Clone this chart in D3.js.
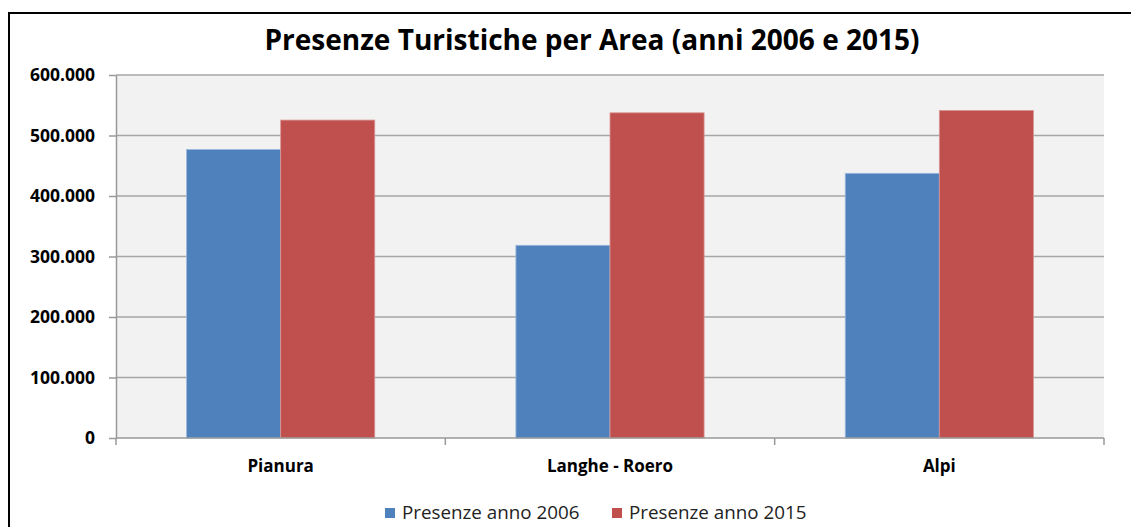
<!DOCTYPE html>
<html>
<head>
<meta charset="utf-8">
<script src="https://cdn.jsdelivr.net/npm/d3@7"></script>
<style>
  body { margin: 0; background: #fff; }
  svg { display: block; font-family: "Open Sans", "Noto Sans", sans-serif; }
</style>
</head>
<body>
<svg id="chart" width="1131" height="527"></svg>
<script>
var areas = ['Pianura', 'Langhe - Roero', 'Alpi']
  , seriesNames = ['Presenze anno 2006', 'Presenze anno 2015']
  , values2006 = [477000, 318500, 437500]
  , values2015 = [525500, 537500, 541500]
  , yTicks = [0, 100000, 200000, 300000, 400000, 500000, 600000]
  , colors = ['#4F81BD', '#C0504D']

var svg = d3.select('#chart')
  , margin = {left: 116, top: 75, right: 27, bottom: 89}
  , width = 1131 - margin.left - margin.right
  , height = 527 - margin.top - margin.bottom

var itFormat = d3.formatLocale({
    decimal: ','
  , thousands: '.'
  , grouping: [3]
  , currency: ['€', '']
}).format(',d')

// outer frame (right and bottom edges fall outside the picture)
svg.append('path')
  .attr('d', 'M9,527V13H1131')
  .attr('fill', 'none')
  .attr('stroke', '#000')
  .attr('stroke-width', 2)

svg.append('text')
  .attr('x', 592)
  .attr('y', 50)
  .attr('text-anchor', 'middle')
  .attr('font-size', '28px')
  .attr('font-weight', 'bold')
  .attr('fill', '#000')
  .text('Presenze Turistiche per Area (anni 2006 e 2015)')

var g = svg.append('g')
  .attr('transform', 'translate(' + margin.left + ',' + margin.top + ')')

var x = d3.scaleBand()
  .domain(areas)
  .range([0, width])

// excel style: gap width 150% of one bar, split on both sides
var barW = x.bandwidth() / 3.5

var x1 = d3.scaleBand()
  .domain(seriesNames)
  .range([barW * 0.75, x.bandwidth() - barW * 0.75])

var y = d3.scaleLinear()
  .domain([0, 600000])
  .range([height, 0])

g.append('rect')
  .attr('width', width)
  .attr('height', height)
  .attr('fill', '#F2F2F2')

g.selectAll('.grid')
  .data(yTicks.slice(1))
  .enter()
    .append('line')
    .attr('class', 'grid')
    .attr('x1', 0)
    .attr('x2', width)
    .attr('y1', y)
    .attr('y2', y)
    .attr('stroke', '#A6A6A6')
    .attr('stroke-width', 1.5)

var table = areas.map(function(area, i) {
  return {area: area, vals: [values2006[i], values2015[i]]}
})

var groups = g.selectAll('.area')
  .data(table)
  .enter()
    .append('g')
    .attr('class', 'area')
    .attr('transform', function(d) { return 'translate(' + x(d.area) + ',0)' })

groups.selectAll('rect')
  .data(function(d) {
    return d.vals.map(function(v, j) { return {name: seriesNames[j], value: v, idx: j} })
  })
  .enter()
    .append('rect')
    .attr('x', function(d) { return x1(d.name) })
    .attr('y', function(d) { return y(d.value) })
    .attr('width', x1.bandwidth())
    .attr('height', function(d) { return height - y(d.value) })
    .attr('fill', function(d) { return colors[d.idx] })
    .attr('stroke', function(d) { return d.idx ? '#D99795' : '#9DB9DC' })
    .attr('stroke-width', 0.8)

var yAxis = g.append('g')
  .call(d3.axisLeft(y).tickValues(yTicks).tickFormat(itFormat).tickSizeInner(7).tickSizeOuter(0).tickPadding(14))

yAxis.select('.domain').attr('stroke', '#999').attr('stroke-width', 1.5)
yAxis.selectAll('.tick line').attr('stroke', '#999').attr('stroke-width', 1.5)
yAxis.selectAll('.tick text')
  .attr('font-size', '17.5px')
  .attr('font-weight', 'bold')
  .attr('fill', '#000')
  .attr('font-family', '"Open Sans", sans-serif')

var xAxis = g.append('g')
  .attr('transform', 'translate(0,' + height + ')')

xAxis.append('line')
  .attr('x1', 0)
  .attr('x2', width)
  .attr('stroke', '#999')
  .attr('stroke-width', 1.5)

xAxis.selectAll('.sep')
  .data(areas.map(function(a) { return x(a) }).concat([width]))
  .enter()
    .append('line')
    .attr('x1', function(d) { return d })
    .attr('x2', function(d) { return d })
    .attr('y1', 0)
    .attr('y2', 7)
    .attr('stroke', '#999')
    .attr('stroke-width', 1.5)

xAxis.selectAll('.cat')
  .data(areas)
  .enter()
    .append('text')
    .attr('x', function(d) { return x(d) + x.bandwidth() / 2 })
    .attr('y', 34)
    .attr('text-anchor', 'middle')
    .attr('font-size', '17px')
    .attr('font-weight', 'bold')
    .attr('fill', '#000')
    .text(function(d) { return d })

var legendX = [385, 612]

var legend = svg.selectAll('.legend')
  .data(seriesNames)
  .enter()
    .append('g')
    .attr('class', 'legend')
    .attr('transform', function(d, i) { return 'translate(' + legendX[i] + ',508)' })

legend.append('rect')
  .attr('width', 10)
  .attr('height', 10)
  .attr('fill', function(d, i) { return colors[i] })

legend.append('text')
  .attr('x', 17)
  .attr('y', 11)
  .attr('font-size', '18.8px')
  .attr('fill', '#222')
  .text(function(d) { return d })
</script>
</body>
</html>
